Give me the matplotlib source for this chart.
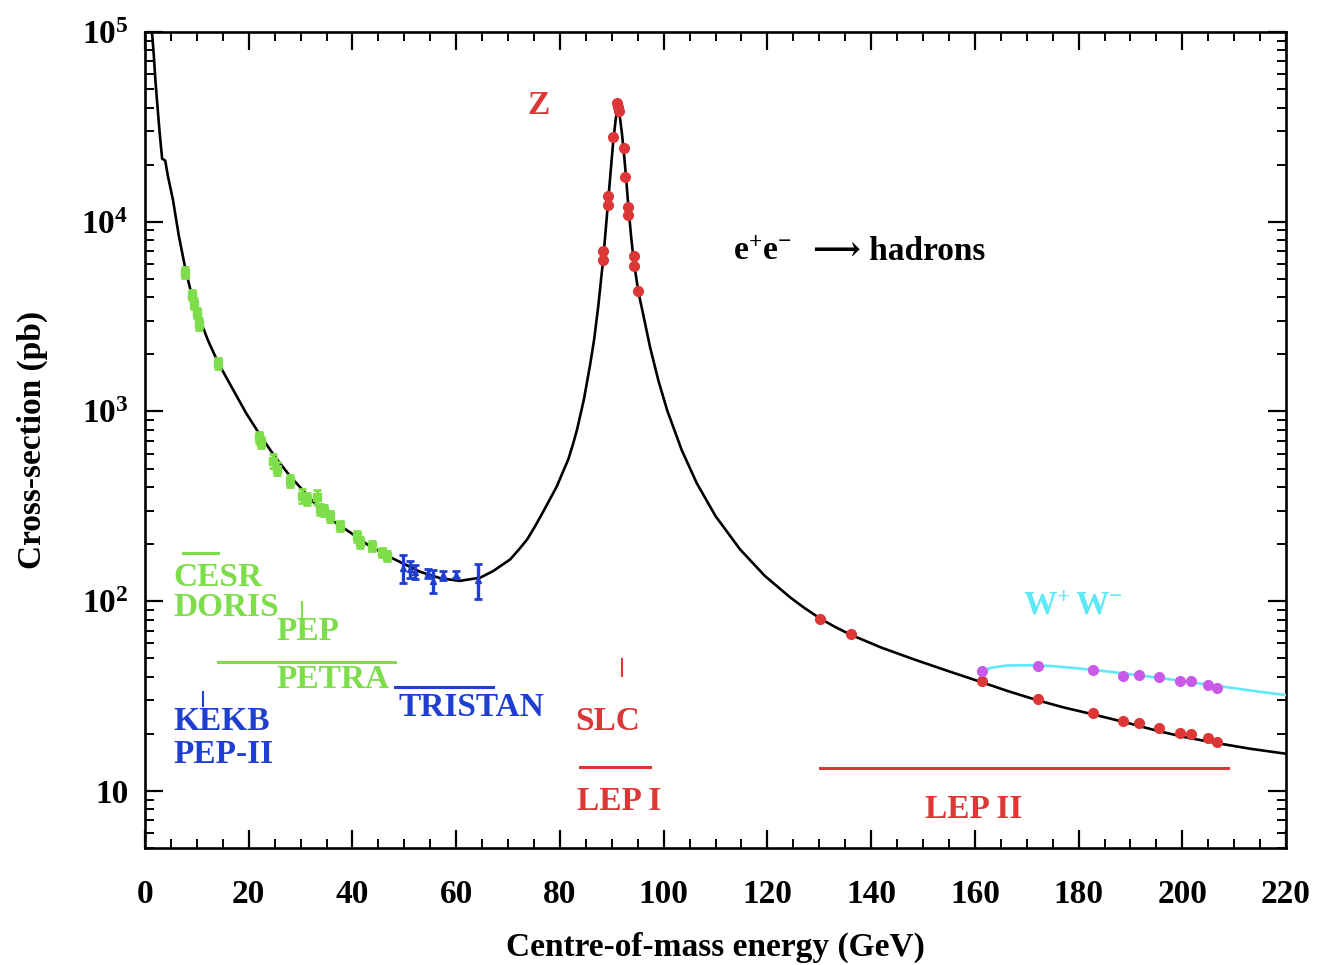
import numpy as np
import matplotlib
matplotlib.use("Agg")
import matplotlib.pyplot as plt

plt.rcParams['font.family'] = ['Liberation Serif', 'DejaVu Serif']
plt.rcParams['font.weight'] = 'bold'
plt.rcParams['mathtext.fontset'] = 'custom'
plt.rcParams['mathtext.rm'] = 'Liberation Serif:bold'
plt.rcParams['mathtext.bf'] = 'Liberation Serif:bold'
plt.rcParams['mathtext.it'] = 'Liberation Serif:bold:italic'

# theory curve e+e- -> hadrons
curve_E = [1.35, 1.7, 2.0, 2.3, 2.8, 3.3, 3.9, 4.4, 5.4, 6.5, 7.7, 9.0, 10.6, 12.2,
           14.1, 17.0, 19.5, 22.2, 25.0, 28.0, 31.0, 33.7, 36.5, 39.5, 43.0, 47.2,
           50.0, 53.0, 57.0, 60.7, 64.6, 67.1, 70.4, 72.0, 73.7, 75.2, 76.7, 78.0,
           79.4, 80.5, 81.6, 82.5, 83.3, 84.6, 85.8, 86.6, 87.4, 88.4, 89.3, 90.3,
           90.8, 91.2, 91.6, 92.0, 92.4, 92.8, 93.2, 93.7, 94.2, 95.1, 96.0, 97.4,
           99.0, 100.7, 103.5, 106.4, 110.0, 114.7, 119.5, 124.4, 127.0, 130.2,
           133.0, 136.1, 142.0, 148.5, 155.0, 161.2, 166.5, 172.0, 177.0, 182.6,
           189.0, 195.3, 200.5, 206.5, 213.0, 220.0]
curve_sig = [100000, 75000, 56000, 44000, 30000, 21500, 21000, 17500, 13000, 8500,
             5800, 4100, 3050, 2350, 1810, 1300, 980, 750, 580, 455, 370, 305, 262,
             231, 198, 171, 157, 143, 132, 128, 133, 144, 166, 186, 212, 248, 294,
             342, 403, 475, 558, 670, 803, 1150, 1750, 2400, 3600, 6600, 12900,
             27000, 35500, 39000, 35000, 28500, 22000, 16500, 12000, 8500, 6300,
             4300, 3300, 2170, 1450, 1010, 624, 418, 281, 188, 136, 104.7, 92.7, 81,
             73.3, 66.5, 56.9, 49.1, 42.7, 37.5, 33.5, 30.1, 27.6, 25.4, 23.0, 20.7,
             19.2, 17.9, 16.7, 15.7]

# W+W- curve
ww_curve_E = [161.0, 161.5, 163, 166, 170, 175, 180, 185, 190, 195, 200, 205, 210, 215, 220]
ww_curve_sig = [40.0, 42.5, 44.5, 45.8, 46.0, 45.5, 44.2, 42.8, 41.2, 39.6, 38.0, 36.3,
                34.8, 33.3, 32.0]

# low energy data (CESR, DORIS, PEP, PETRA)
green_E = [7.7, 9.0, 9.5, 10.0, 10.5, 14.1, 21.9, 22.3, 24.7, 25.4, 28.0, 30.3, 31.2,
           33.2, 33.7, 34.5, 35.7, 37.6, 40.9, 41.5, 43.8, 45.7, 46.7]
green_sig = [5400, 4100, 3700, 3300, 2900, 1800, 730, 690, 550, 500, 430, 360, 345,
             355, 305, 300, 280, 250, 220, 205, 195, 181, 173]
green_err = [350, 250, 250, 200, 200, 120, 50, 45, 45, 40, 30, 30, 25, 30, 20, 20, 18,
             16, 15, 14, 12, 10, 10]

# TRISTAN
blue_E = [49.8, 51.0, 52.0, 54.5, 55.5, 57.5, 60.0, 64.2]
blue_sig = [150, 148, 143, 140, 128, 137, 138, 130]
blue_err = [25, 15, 12, 8, 18, 8, 6, 27]

# SLC / LEP I / LEP II hadronic cross-section
red_E = [88.4, 88.4, 89.3, 89.3, 90.3, 91.1, 91.2, 91.3, 92.3, 92.6, 93.2, 93.2, 94.2,
         94.2, 95.1, 130.2, 136.1, 161.3, 172.1, 182.7, 188.6, 191.6, 195.5, 199.5,
         201.6, 204.9, 206.7]
red_sig = [6980, 6310, 13600, 12300, 28100, 42500, 40500, 38500, 24500, 17300, 11900,
           10900, 6560, 5820, 4300, 81, 67.5, 38, 30.5, 25.6, 23.5, 22.9, 21.5, 20.2,
           20.0, 19.0, 18.0]

# LEP II W+W- cross-section
ww_E = [161.3, 172.1, 182.7, 188.6, 191.6, 195.5, 199.5, 201.6, 204.9, 206.7]
ww_sig = [43, 45.5, 43.5, 40.5, 40.7, 39.8, 37.9, 37.9, 36.1, 34.8]

GREEN = '#7ddd4a'
BLUE = '#1f3fd0'
RED = '#dd3636'
CYAN = '#5fe8f5'
PURPLE = '#c95ae8'

fig = plt.figure(figsize=(13.17, 9.65), dpi=100)
ax = fig.add_axes([0.1101, 0.1212, 0.8664, 0.8456])

ax.plot(curve_E, curve_sig, color='black', lw=1.9, zorder=3)
ax.plot(ww_curve_E, ww_curve_sig, color=CYAN, lw=1.9, zorder=3)

ax.errorbar(green_E, green_sig, yerr=green_err, fmt='s', ms=6, color=GREEN,
            ecolor=GREEN, elinewidth=2.4, capsize=3, capthick=2, zorder=4)
ax.errorbar(blue_E, blue_sig, yerr=blue_err, fmt='^', ms=5, color=BLUE,
            ecolor=BLUE, elinewidth=2.4, capsize=3, capthick=2, zorder=4)
ax.plot(red_E, red_sig, 'o', ms=7, color=RED, zorder=5)
ax.plot(ww_E, ww_sig, 'o', ms=7, color=PURPLE, zorder=5)

ax.set_yscale('log')
ax.set_xlim(0, 220)
ax.set_ylim(5.0, 1e5)

ax.set_xticks(np.arange(0, 221, 20))
ax.set_xticks(np.arange(0, 221, 5), minor=True)
ax.set_yticks([10, 100, 1000, 10000, 100000])
ax.set_yticklabels(['10', r'$\mathregular{10^{2}}$', r'$\mathregular{10^{3}}$',
                    r'$\mathregular{10^{4}}$', r'$\mathregular{10^{5}}$'])

ax.tick_params(which='both', direction='in', top=True, right=True, labelsize=24)
ax.tick_params(which='major', length=13, width=1.6)
ax.tick_params(which='minor', length=6.5, width=1.4)
ax.tick_params(axis='x', pad=22)
ax.tick_params(axis='y', pad=12)
for s in ax.spines.values():
    s.set_linewidth(1.9)

ax.set_xlabel('Centre-of-mass energy (GeV)', fontsize=24, fontweight='bold', labelpad=16)
ax.set_ylabel('Cross-section (pb)', fontsize=24, fontweight='bold', labelpad=24)

fs = 24
# collider ranges
ax.plot([7.3, 14.1], [179, 179], color=GREEN, lw=2.2)
ax.plot([30.3, 30.3], [83, 99], color=GREEN, lw=1.5)
ax.plot([14.1, 48.2], [47.7, 47.7], color=GREEN, lw=2.2)
ax.plot([48.2, 67.1], [35.3, 35.3], color=BLUE, lw=2.2)
ax.plot([11.2, 11.2], [28, 33.2], color=BLUE, lw=1.5)
ax.plot([92.0, 92.0], [40.3, 49.5], color=RED, lw=1.5)
ax.plot([83.9, 97.4], [13.4, 13.4], color=RED, lw=2.2)
ax.plot([130.2, 208.8], [13.2, 13.2], color=RED, lw=2.2)

ax.text(5.4, 134, 'CESR', color=GREEN, fontsize=fs, va='center', ha='left')
ax.text(5.4, 93, 'DORIS', color=GREEN, fontsize=fs, va='center', ha='left')
ax.text(25.3, 69.5, 'PEP', color=GREEN, fontsize=fs, va='center', ha='left')
ax.text(25.3, 38.8, 'PETRA', color=GREEN, fontsize=fs, va='center', ha='left')
ax.text(48.8, 27.4, 'TRISTAN', color=BLUE, fontsize=fs, va='center', ha='left')
ax.text(5.4, 23.1, 'KEKB', color=BLUE, fontsize=fs, va='center', ha='left')
ax.text(5.4, 15.5, 'PEP-II', color=BLUE, fontsize=fs, va='center', ha='left')
ax.text(82.9, 23.1, 'SLC', color=RED, fontsize=fs, va='center', ha='left')
ax.text(83.3, 8.75, 'LEP I', color=RED, fontsize=fs, va='center', ha='left')
ax.text(150.4, 8.03, 'LEP II', color=RED, fontsize=fs, va='center', ha='left')
ax.text(169.3, 94, r'$\mathregular{W^{+}\,W^{-}}$', color=CYAN, fontsize=fs,
        va='center', ha='left')
ax.text(75.8, 40900, 'Z', color=RED, fontsize=fs, va='center', ha='center')
ax.text(113.4, 6950, r'$\mathregular{e^{+}e^{-}}$', color='black',
        fontsize=fs, va='center', ha='left')
ax.text(128.8, 6950, '⟶ hadrons', color='black', fontsize=fs, va='center', ha='left')

fig.savefig('out.png', dpi=100)
